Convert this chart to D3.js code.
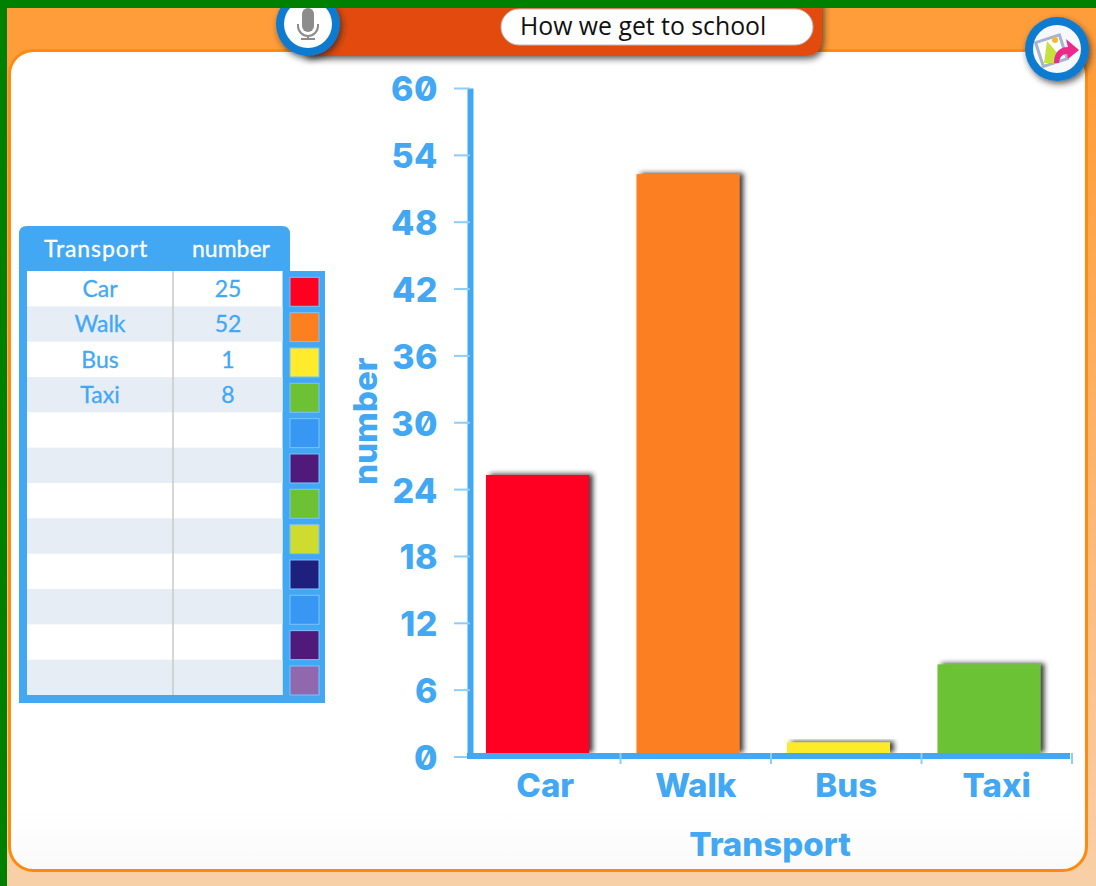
<!DOCTYPE html>
<html>
<head>
<meta charset="utf-8">
<script src="https://cdn.jsdelivr.net/npm/d3@7"></script>
<style>
    html, body { margin: 0; padding: 0; background: #fff; overflow: hidden; }
    svg { display: block; }
    .chartText { font-family: Inter, "DejaVu Sans", sans-serif; font-weight: 800; fill: #42a8f4; font-feature-settings: "zero" 1; }
    .tableText { font-family: Lato, "Open Sans", sans-serif; fill: #42a8f4; stroke: #42a8f4; stroke-width: 0.3px; }
</style>
</head>
<body>
<div id="my_dataviz"></div>
<script>
// chart data
var title = "How we get to school";
var xTitle = "Transport";
var yTitle = "number";
var categories = ["Car", "Walk", "Bus", "Taxi"];
var values = [25, 52, 1, 8];
var yTicks = [0, 6, 12, 18, 24, 30, 36, 42, 48, 54, 60];
var rowCount = 12;
var swatchColors = ["#ff0020", "#fc7f20", "#fdeb2c", "#6cc234", "#3797f3", "#501a7a",
                    "#6cc234", "#cddc2e", "#1f1f7e", "#3797f3", "#501a7a", "#9068ae"];

var blue = "#42a8f4", lightBlue = "#8fcdf8";

var svg = d3.select("#my_dataviz")
    .append("svg")
        .attr("width", 1096)
        .attr("height", 886);

var defs = svg.append("defs");

var bg = defs.append("linearGradient").attr("id", "bgGrad")
    .attr("x1", 0).attr("y1", 0).attr("x2", 0).attr("y2", 1);
bg.append("stop").attr("offset", "0.1").attr("stop-color", "#ff9d3b");
bg.append("stop").attr("offset", "1").attr("stop-color", "#f8d0a8");

var panelGrad = defs.append("linearGradient").attr("id", "panelGrad")
    .attr("x1", 0).attr("y1", 0).attr("x2", 0).attr("y2", 1);
panelGrad.append("stop").attr("offset", "0.92").attr("stop-color", "#ffffff");
panelGrad.append("stop").attr("offset", "1").attr("stop-color", "#fafafa");

// drop shadows
function shadow(id, dx, dy, blur, op) {
    defs.append("filter").attr("id", id)
        .attr("x", "-30%").attr("y", "-30%").attr("width", "160%").attr("height", "160%")
        .append("feDropShadow")
            .attr("dx", dx).attr("dy", dy).attr("stdDeviation", blur)
            .attr("flood-color", "#222").attr("flood-opacity", op);
}
shadow("barShadow", 4, -1, 2.5, 0.85);
shadow("btnShadow", 2, 3, 3, 0.7);

// page background
svg.append("rect").attr("width", 1096).attr("height", 886).attr("fill", "url(#bgGrad)");
svg.append("rect")
    .attr("x", 9.5).attr("y", 50.5).attr("width", 1077).attr("height", 820)
    .attr("rx", 24)
    .attr("fill", "url(#panelGrad)")
    .attr("stroke", "#ff8a10").attr("stroke-width", 3);

// header bar
svg.append("path")
    .attr("d", "M305,0H822V38Q822,56 804,56H305Z")
    .attr("fill", "#e24c07")
    .attr("filter", "url(#btnShadow)");
svg.append("rect")
    .attr("x", 501).attr("y", 9).attr("width", 312).attr("height", 36).attr("rx", 18)
    .attr("fill", "#fff").attr("stroke", "#bbb").attr("stroke-width", 1);
svg.append("text")
    .attr("x", 520).attr("y", 34.5)
    .style("font", "24.8px 'Open Sans', sans-serif")
    .attr("fill", "#111")
    .text(title);

// mic button
var mic = svg.append("g").attr("transform", "translate(308,24)");
mic.append("circle").attr("r", 32).attr("fill", "#0b7bd0").attr("filter", "url(#btnShadow)");
mic.append("circle").attr("r", 24).attr("fill", "#fff");
mic.append("rect").attr("x", -6).attr("y", -16).attr("width", 12).attr("height", 24).attr("rx", 6).attr("fill", "#8c8c8c");
mic.append("path").attr("d", "M-10,0V2A10,10 0 0 0 10,2V0M0,12V14M-7,15H7")
    .attr("fill", "none").attr("stroke", "#8c8c8c").attr("stroke-width", 2);

// share button
var share = svg.append("g").attr("transform", "translate(1057,49)");
share.append("circle").attr("r", 32).attr("fill", "#0b7bd0").attr("filter", "url(#btnShadow)");
share.append("circle").attr("r", 24).attr("fill", "#f6f8fb");
share.append("rect").attr("x", -18).attr("y", -11).attr("width", 25).attr("height", 25)
    .attr("transform", "rotate(-18 -5 2)")
    .attr("fill", "#fff").attr("stroke", "#a6b4cc").attr("stroke-width", 3);
share.append("path").attr("d", "M-13,14L-10,-8L2,6L-1,14Z").attr("fill", "#c6e23c");
share.append("circle").attr("cx", -2).attr("cy", -9).attr("r", 3).attr("fill", "#f7b733");
share.append("path").attr("d", "M-3,14C-3,2 4,-2 11,-2L9,-10L22,1L11,10L10,5C6,5 3,7 2,14Z").attr("fill", "#ec2a8b");

// green frame on top of the header
svg.append("rect").attr("width", 1096).attr("height", 8).attr("fill", "#008000");
svg.append("rect").attr("width", 7).attr("height", 886).attr("fill", "#008000");

// ---- table ----
var rowY = d3.scaleBand().domain(d3.range(rowCount)).range([271, 695]);

var table = svg.append("g");
table.append("path")
    .attr("d", "M19,271V234Q19,226 27,226H282Q290,226 290,234V271Z")
    .attr("fill", blue);
table.append("rect").attr("x", 19).attr("y", 271).attr("width", 306).attr("height", 432).attr("fill", blue);
// white base so the row edges do not let the frame colour through
table.append("rect").attr("x", 27).attr("y", 271).attr("width", 255.5).attr("height", 424).attr("fill", "#fff");

table.selectAll(".row")
    .data(d3.range(1, rowCount, 2))
    .join("rect")
        .attr("class", "row")
        .attr("x", 27).attr("width", 255.5)
        .attr("y", d => rowY(d))
        .attr("height", rowY.bandwidth())
        .attr("fill", "#e6edf4");

table.append("line")
    .attr("x1", 173).attr("x2", 173).attr("y1", 271).attr("y2", 695)
    .attr("stroke", "#c8c8c8").attr("stroke-width", 1.5);

table.selectAll(".swatch")
    .data(swatchColors)
    .join("rect")
        .attr("class", "swatch")
        .attr("x", 290).attr("width", 29)
        .attr("y", (d, i) => rowY(i) + 6.3)
        .attr("height", 29)
        .attr("fill", d => d)
        .attr("stroke", "#7cc4f8").attr("stroke-width", 1);

table.append("text").attr("class", "tableText")
    .attr("x", 96).attr("y", 257).attr("text-anchor", "middle")
    .style("font-size", "23px").style("fill", "#fff").style("stroke", "#fff")
    .style("letter-spacing", "0.9px")
    .text(xTitle);
table.append("text").attr("class", "tableText")
    .attr("x", 231).attr("y", 257).attr("text-anchor", "middle")
    .style("font-size", "23px").style("fill", "#fff").style("stroke", "#fff")
    .text(yTitle);

table.selectAll(".catCell")
    .data(categories)
    .join("text")
        .attr("class", "catCell tableText")
        .attr("x", 100).attr("text-anchor", "middle")
        .attr("y", (d, i) => rowY(i) + 26)
        .style("font-size", "23px")
        .text(d => d);
table.selectAll(".valCell")
    .data(values)
    .join("text")
        .attr("class", "valCell tableText")
        .attr("x", 228).attr("text-anchor", "middle")
        .attr("y", (d, i) => rowY(i) + 26)
        .style("font-size", "23px")
        .text(d => d);

// ---- chart ----
var x = d3.scaleBand().domain(categories).range([470, 1072]);
var y = d3.scaleLinear().domain([0, 60]).range([756.5, 88]);

var barInset = 16, barWidth = 103, barLift = 3;

svg.selectAll(".bar")
    .data(values)
    .join("rect")
        .attr("class", "bar")
        .attr("x", (d, i) => x(categories[i]) + barInset)
        .attr("width", barWidth)
        .attr("y", d => y(d) - barLift)
        .attr("height", d => y(0) - y(d))
        .attr("fill", (d, i) => swatchColors[i])
        .attr("filter", "url(#barShadow)");

// Y axis
var yAxis = svg.append("g")
    .attr("transform", "translate(470,0)")
    .call(d3.axisLeft(y).tickValues(yTicks).tickSize(16).tickSizeOuter(0).tickPadding(16));
yAxis.select(".domain").attr("stroke", blue).attr("stroke-width", 6);
yAxis.selectAll(".tick line").attr("stroke", lightBlue).attr("stroke-width", 2);
yAxis.selectAll(".tick text").attr("class", "chartText")
    .attr("dy", "0.38em")
    .style("font-size", "34px").style("letter-spacing", "0.5px");

// X axis
var xAxis = svg.append("g")
    .attr("transform", "translate(0,756)")
    .call(d3.axisBottom(x).tickSize(0).tickPadding(18));
xAxis.select(".domain").remove();
xAxis.selectAll(".tick text").attr("class", "chartText").style("font-size", "33px");
xAxis.append("line")
    .attr("x1", x.range()[0] - 3).attr("x2", x.range()[1] - 2)
    .attr("stroke", blue).attr("stroke-width", 6);
xAxis.selectAll(".sep")
    .data(categories)
    .join("line")
        .attr("class", "sep")
        .attr("x1", d => x(d) + x.bandwidth()).attr("x2", d => x(d) + x.bandwidth())
        .attr("y1", -3).attr("y2", 8)
        .attr("stroke", lightBlue).attr("stroke-width", 2);

// axis titles
svg.append("text").attr("class", "chartText")
    .attr("x", 770).attr("y", 856).attr("text-anchor", "middle")
    .style("font-size", "33px")
    .text(xTitle);
svg.append("text").attr("class", "chartText")
    .attr("transform", "translate(377,421) rotate(-90)")
    .attr("text-anchor", "middle")
    .style("font-size", "33px")
    .text(yTitle);
</script>
</body>
</html>
